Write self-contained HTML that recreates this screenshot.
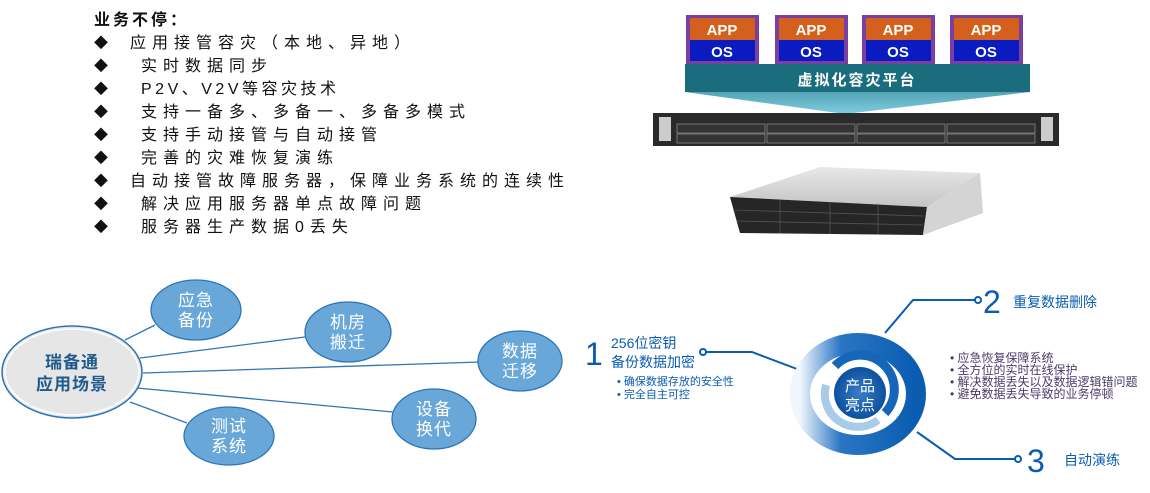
<!DOCTYPE html>
<html><head><meta charset="utf-8"><style>
body{margin:0;width:1150px;height:488px;background:#fff;overflow:hidden;font-family:"Liberation Sans","Noto Sans CJK SC",sans-serif}
</style></head><body>
<svg width="1150" height="488" viewBox="0 0 1150 488" xmlns="http://www.w3.org/2000/svg" font-family="Liberation Sans, Noto Sans CJK SC, sans-serif">
<defs>
<linearGradient id="tg" x1="0" y1="0" x2="0" y2="1"><stop offset="0" stop-color="#1f6f80"/><stop offset="1" stop-color="#7fcde0"/></linearGradient>
<linearGradient id="sv" x1="0" y1="0" x2="0" y2="1"><stop offset="0" stop-color="#e8e8e8"/><stop offset="1" stop-color="#c4c4c4"/></linearGradient>
<linearGradient id="rg" x1="0" y1="0" x2="1" y2="0"><stop offset="0" stop-color="#f0f6fc"/><stop offset="0.35" stop-color="#2a76c4"/><stop offset="1" stop-color="#0a5cb0"/></linearGradient>
<radialGradient id="cg"><stop offset="0" stop-color="#3a7fc8"/><stop offset="1" stop-color="#0b4f9e"/></radialGradient>
</defs>
<!-- left text -->
<g font-size="16" fill="#111" letter-spacing="6">
<text x="94" y="25" font-weight="bold" letter-spacing="3">业务不停：</text>
<g font-size="14" letter-spacing="0"><text x="94" y="48">◆</text><text x="94" y="71">◆</text><text x="94" y="94">◆</text><text x="94" y="117">◆</text><text x="94" y="140">◆</text><text x="94" y="163">◆</text><text x="94" y="186">◆</text><text x="94" y="209">◆</text><text x="94" y="232">◆</text></g>
<text x="130" y="48">应用接管容灾（本地、异地）</text>
<text x="141" y="71">实时数据同步</text>
<text x="141" y="94" letter-spacing="3.5">P2V、V2V等容灾技术</text>
<text x="141" y="117">支持一备多、多备一、多备多模式</text>
<text x="141" y="140">支持手动接管与自动接管</text>
<text x="141" y="163">完善的灾难恢复演练</text>
<text x="130" y="186">自动接管故障服务器，保障业务系统的连续性</text>
<text x="141" y="209">解决应用服务器单点故障问题</text>
<text x="141" y="232">服务器生产数据0丢失</text>
</g>
<!-- APP/OS -->
<polygon points="685,64 1030,64 1030,92 845,114 685,92" fill="url(#tg)"/>
<rect x="685" y="64" width="345" height="28" fill="#1a6d7c"/>
<text x="857" y="85" font-size="15" font-weight="bold" fill="#fff" text-anchor="middle" letter-spacing="2">虚拟化容灾平台</text>
<g font-weight="bold" font-size="15" fill="#fff" text-anchor="middle">
<g transform="translate(686,15)"><rect width="73" height="49" fill="#7a3fa0"/><rect x="4" y="3" width="65" height="22" fill="#d3601c"/><rect x="4" y="25" width="65" height="21" fill="#0a1bbf"/><text x="36" y="20">APP</text><text x="36" y="42">OS</text></g>
<g transform="translate(775,15)"><rect width="73" height="49" fill="#7a3fa0"/><rect x="4" y="3" width="65" height="22" fill="#d3601c"/><rect x="4" y="25" width="65" height="21" fill="#0a1bbf"/><text x="36" y="20">APP</text><text x="36" y="42">OS</text></g>
<g transform="translate(862,15)"><rect width="73" height="49" fill="#7a3fa0"/><rect x="4" y="3" width="65" height="22" fill="#d3601c"/><rect x="4" y="25" width="65" height="21" fill="#0a1bbf"/><text x="36" y="20">APP</text><text x="36" y="42">OS</text></g>
<g transform="translate(950,15)"><rect width="73" height="49" fill="#7a3fa0"/><rect x="4" y="3" width="65" height="22" fill="#d3601c"/><rect x="4" y="25" width="65" height="21" fill="#0a1bbf"/><text x="36" y="20">APP</text><text x="36" y="42">OS</text></g>
</g>
<!-- server 1 -->
<rect x="653" y="113" width="406" height="33" fill="#2a2a2a"/>
<rect x="659" y="117" width="12" height="24" fill="#ccc"/><rect x="1041" y="117" width="12" height="24" fill="#ccc"/>
<g fill="#333" stroke="#888" stroke-width="0.8">
<rect x="677" y="124" width="88" height="9"/><rect x="767" y="124" width="88" height="9"/><rect x="857" y="124" width="88" height="9"/><rect x="947" y="124" width="88" height="9"/>
<rect x="677" y="134" width="88" height="9"/><rect x="767" y="134" width="88" height="9"/><rect x="857" y="134" width="88" height="9"/><rect x="947" y="134" width="88" height="9"/>
</g>
<!-- server 2 -->
<polygon points="730,197 820,167 980,173 927,207" fill="url(#sv)"/>
<polygon points="730,197 927,207 923,235 740,233" fill="#262626"/>
<g stroke="#555" stroke-width="0.8" fill="none">
<line x1="735" y1="210" x2="923" y2="216"/><line x1="737" y1="221" x2="923" y2="225"/>
<line x1="780" y1="200" x2="780" y2="233"/><line x1="830" y1="202" x2="830" y2="234"/><line x1="878" y1="204" x2="878" y2="234"/>
</g>
<polygon points="927,207 980,173 983,213 923,235" fill="#d4d4d4"/>
<!-- left scenario -->
<g stroke="#2e75b6" stroke-width="1.3">
<line x1="125" y1="340" x2="155" y2="325"/><line x1="140" y1="358" x2="305" y2="337"/><line x1="143" y1="373" x2="480" y2="362"/><line x1="137" y1="388" x2="393" y2="412"/><line x1="130" y1="402" x2="187" y2="423"/>
</g>
<ellipse cx="72" cy="372" rx="70" ry="46" fill="#e6e6e6" stroke="#2e75b6" stroke-width="1.5"/>
<ellipse cx="72" cy="372" rx="67" ry="43" fill="none" stroke="#fff" stroke-width="1.5"/>
<text x="72" y="368" text-anchor="middle" font-size="17" font-weight="bold" fill="#1f5a8c" letter-spacing="1">瑞备通</text>
<text x="72" y="390" text-anchor="middle" font-size="17" font-weight="bold" fill="#1f5a8c" letter-spacing="1">应用场景</text>
<g fill="#69a7d9" stroke="#2e75b6" stroke-width="1.3">
<ellipse cx="196" cy="310" rx="45" ry="30"/><ellipse cx="348" cy="332" rx="43" ry="30"/><ellipse cx="520" cy="361" rx="42" ry="30"/><ellipse cx="434" cy="419" rx="42" ry="30"/><ellipse cx="229" cy="436" rx="45" ry="29"/>
</g>
<g fill="#fff" font-size="17" text-anchor="middle" letter-spacing="1">
<text x="196" y="306">应急</text><text x="196" y="326">备份</text>
<text x="348" y="328">机房</text><text x="348" y="348">搬迁</text>
<text x="520" y="357">数据</text><text x="520" y="377">迁移</text>
<text x="434" y="415">设备</text><text x="434" y="435">换代</text>
<text x="229" y="432">测试</text><text x="229" y="452">系统</text>
</g>
<!-- right highlights -->
<g stroke="#0a5cb0" stroke-width="2" fill="none">
<polyline points="706,352 752,352 797,369"/><polyline points="885,333 913,300 975,300"/><polyline points="917,432 955,459 1015,459"/>
<circle cx="703" cy="352" r="3" fill="#fff"/><circle cx="978" cy="300" r="3" fill="#fff"/><circle cx="1018" cy="459" r="3" fill="#fff"/>
</g>
<ellipse cx="858" cy="394" rx="58" ry="51" fill="none" stroke="url(#rg)" stroke-width="20"/>
<path d="M 835 366 A 33 33 0 1 1 885 413" fill="none" stroke="#1565b8" stroke-width="9"/>
<path d="M 878 420 A 33 33 0 0 1 826 385" fill="none" stroke="#a8cbe8" stroke-width="8"/>
<circle cx="860" cy="393" r="26" fill="url(#cg)"/>
<text x="860" y="391" text-anchor="middle" font-size="15" fill="#fff">产品</text>
<text x="860" y="410" text-anchor="middle" font-size="15" fill="#fff">亮点</text>
<g fill="#0a5cb0">
<text x="585" y="365" font-size="32">1</text>
<text x="611" y="348" font-size="14">256位密钥</text>
<text x="611" y="367" font-size="14">备份数据加密</text>
<text x="617" y="385" font-size="11">•  确保数据存放的安全性</text>
<text x="617" y="398" font-size="11">•  完全自主可控</text>
<text x="983" y="313" font-size="32">2</text>
<text x="1013" y="307" font-size="14">重复数据删除</text>
<text x="1027" y="472" font-size="32">3</text>
<text x="1064" y="465" font-size="14">自动演练</text>
</g>
<g fill="#4a3a6a" font-size="12">
<text x="950" y="362">•  应急恢复保障系统</text>
<text x="950" y="374">•  全方位的实时在线保护</text>
<text x="950" y="386">•  解决数据丢失以及数据逻辑错问题</text>
<text x="950" y="398">•  避免数据丢失导致的业务停顿</text>
</g>
</svg>
</body></html>
